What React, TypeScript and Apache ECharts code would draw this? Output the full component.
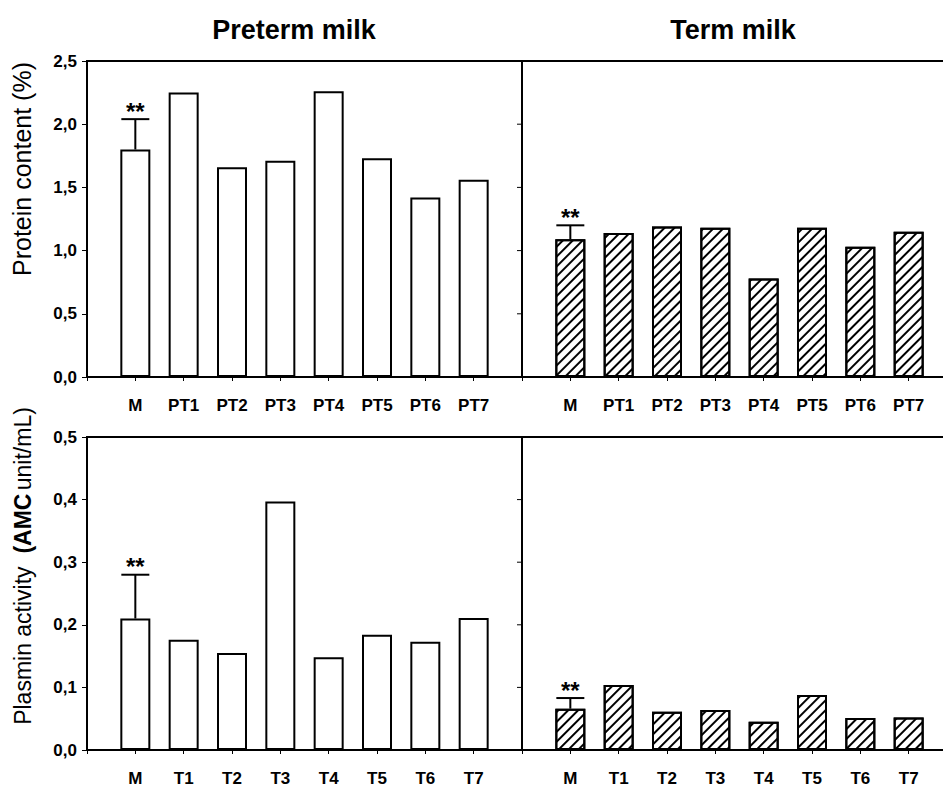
import React, { useEffect, useRef } from "react";
import * as echarts from "echarts";

const topLabels = ["M", "PT1", "PT2", "PT3", "PT4", "PT5", "PT6", "PT7"];
const bottomLabels = ["M", "T1", "T2", "T3", "T4", "T5", "T6", "T7"];

const pretermProtein = [1.8, 2.25, 1.66, 1.71, 2.26, 1.73, 1.42, 1.56];
const termProtein = [1.09, 1.14, 1.19, 1.18, 0.78, 1.18, 1.03, 1.15];
const pretermPlasmin = [0.21, 0.176, 0.155, 0.397, 0.148, 0.184, 0.173, 0.211];
const termPlasmin = [0.066, 0.104, 0.061, 0.064, 0.045, 0.088, 0.051, 0.052];

// error (+SD) on the mean bar "M"
const pretermProteinErr = 0.24;
const termProteinErr = 0.11;
const pretermPlasminErr = 0.07;
const termPlasminErr = 0.017;

// y tick values (used for the tick marks on the shared divider of the right panels)
const proteinTicks = [0, 0.5, 1.0, 1.5, 2.0, 2.5];
const plasminTicks = [0, 0.1, 0.2, 0.3, 0.4, 0.5];

const FONT = "'Liberation Sans', Arial, sans-serif";

export default function App() {
  const ref = useRef<HTMLDivElement>(null);

  useEffect(() => {
    if (!ref.current) return;
    const chart = echarts.init(ref.current, undefined, { renderer: "svg" });

    const SLOT = 435 / 9;
    const grids = [
      { left: 87, top: 61, width: 435, height: 316 },
      { left: 522, top: 61, width: 423, height: 316 },
      { left: 87, top: 437, width: 435, height: 313 },
      { left: 522, top: 437, width: 423, height: 313 },
    ].map((g) => ({
      ...g,
      show: true,
      borderColor: "#000",
      borderWidth: 2,
      backgroundColor: "transparent",
      containLabel: false,
      outerBoundsMode: "none",
    }));

    const xAxis = [0, 1, 2, 3].map((i) => {
      const labels = i < 2 ? topLabels : bottomLabels;
      return {
        type: "value",
        gridIndex: i,
        position: "bottom",
        min: 0,
        max: grids[i].width / SLOT,
        interval: 1,
        axisLine: { show: true, onZero: false, lineStyle: { color: "#000", width: 2 } },
        axisTick: { show: true, length: 4, lineStyle: { color: "#000", width: 1 } },
        axisLabel: {
          show: true,
          margin: 20,
          showMaxLabel: false,
          color: "#000",
          fontFamily: FONT,
          fontWeight: "bold",
          fontSize: 17,
          formatter: (v: number) =>
            Number.isInteger(v) && v >= 1 && v <= labels.length ? labels[v - 1] : "",
        },
        splitLine: { show: false },
      };
    });

    const fmt = (v: number) => v.toFixed(1).replace(".", ",");
    const yAxis = [0, 1, 2, 3].map((i) => ({
      type: "value",
      gridIndex: i,
      position: "left",
      min: 0,
      max: i < 2 ? 2.5 : 0.5,
      interval: i < 2 ? 0.5 : 0.1,
      axisLine: { show: true, onZero: false, lineStyle: { color: "#000", width: 2 } },
      axisTick: { show: i % 2 === 0, length: 5, lineStyle: { color: "#000", width: 1 } },
      axisLabel: {
        show: i % 2 === 0,
        formatter: fmt,
        margin: 10,
        color: "#000",
        fontFamily: FONT,
        fontWeight: "bold",
        fontSize: 17,
      },
      splitLine: { show: false },
    }));

    const hatch = {
      symbol: "rect",
      symbolSize: 1,
      dashArrayX: [1, 0],
      dashArrayY: [2, 5],
      rotation: -Math.PI / 4,
      color: "#000",
      backgroundColor: "#fff",
    };

    const barSeries = (idx: number, vals: number[], hatched: boolean) => ({
      type: "bar",
      xAxisIndex: idx,
      yAxisIndex: idx,
      data: vals.map((v, k) => [k + 1, v]),
      barWidth: 30,
      itemStyle: {
        color: "#fff",
        borderColor: "#000",
        borderWidth: 2,
        ...(hatched ? { decal: hatch } : {}),
      },
      emphasis: { disabled: true },
    });

    const errSeries = (idx: number, val: number, err: number) => ({
      type: "custom",
      xAxisIndex: idx,
      yAxisIndex: idx,
      clip: false,
      data: [[1, val, err]],
      renderItem: (params: any, api: any) => {
        const x = api.value(0);
        const y = api.value(1);
        const e = api.value(2);
        const p0 = api.coord([x, y]);
        const p1 = api.coord([x, y + e]);
        return {
          type: "group",
          children: [
            { type: "line", shape: { x1: p0[0], y1: p0[1], x2: p1[0], y2: p1[1] }, style: { stroke: "#000", lineWidth: 2 } },
            { type: "line", shape: { x1: p1[0] - 14, y1: p1[1], x2: p1[0] + 14, y2: p1[1] }, style: { stroke: "#000", lineWidth: 2 } },
            {
              type: "text",
              style: { text: "**", x: p1[0], y: p1[1] + 4, align: "center", verticalAlign: "bottom", fill: "#000", font: `bold 24px ${FONT}` },
            },
          ],
        };
      },
    });

    // tick marks on the divider (left edge of the right panels), pointing outward (left)
    const tickSeries = (idx: number, ticks: number[]) => ({
      type: "custom",
      xAxisIndex: idx,
      yAxisIndex: idx,
      clip: false,
      silent: true,
      data: ticks.map((t) => [0, t]),
      renderItem: (params: any, api: any) => {
        const p = api.coord([api.value(0), api.value(1)]);
        return {
          type: "line",
          shape: { x1: p[0] - 5, y1: p[1], x2: p[0], y2: p[1] },
          style: { stroke: "#000", lineWidth: 1 },
        };
      },
    });

    const option: any = {
      animation: false,
      backgroundColor: "#fff",
      grid: grids,
      xAxis,
      yAxis,
      series: [
        barSeries(0, pretermProtein, false),
        barSeries(1, termProtein, true),
        barSeries(2, pretermPlasmin, false),
        barSeries(3, termPlasmin, true),
        errSeries(0, pretermProtein[0], pretermProteinErr),
        errSeries(1, termProtein[0], termProteinErr),
        errSeries(2, pretermPlasmin[0], pretermPlasminErr),
        errSeries(3, termPlasmin[0], termPlasminErr),
        tickSeries(1, proteinTicks),
        tickSeries(3, plasminTicks),
      ],
      graphic: [
        { type: "text", x: 294, y: 30, style: { text: "Preterm milk", align: "center", verticalAlign: "middle", fill: "#000", font: `bold 27px ${FONT}` } },
        { type: "text", x: 733, y: 30, style: { text: "Term milk", align: "center", verticalAlign: "middle", fill: "#000", font: `bold 27px ${FONT}` } },
        { type: "text", x: 22, y: 169, rotation: Math.PI / 2, style: { text: "Protein content (%)", align: "center", verticalAlign: "middle", fill: "#000", font: `normal 25px ${FONT}` } },
        {
          type: "text",
          x: 23,
          y: 566,
          rotation: Math.PI / 2,
          style: {
            text: "{n|Plasmin activity  }{b|(AMC} {n|unit/mL)}",
            align: "center",
            verticalAlign: "middle",
            fill: "#000",
            rich: {
              n: { fontFamily: FONT, fontSize: 23, fontWeight: "normal", fill: "#000" },
              b: { fontFamily: FONT, fontSize: 23, fontWeight: "bold", fill: "#000" },
            },
          },
        },
      ],
    };

    chart.setOption(option);
    return () => chart.dispose();
  }, []);

  return <div ref={ref} style={{ position: "absolute", left: 0, top: 0, width: 943, height: 792, background: "#fff" }} />;
}
